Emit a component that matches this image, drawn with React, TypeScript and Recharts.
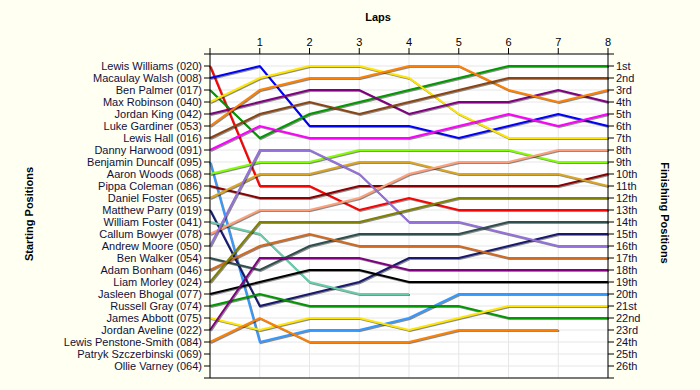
import React from 'react';
import { LineChart, Line, XAxis, YAxis, CartesianGrid, ReferenceLine } from 'recharts';

const laps: number[] = [0, 1, 2, 3, 4, 5, 6, 7, 8];
const lapTicks: number[] = [0, 1, 2, 3, 4, 5, 6, 7, 8];
const positionTicks: number[] = Array.from({ length: 28 }, (_, i) => i);

const drivers: string[] = [
  'Lewis Williams (020)',
  'Macaulay Walsh (008)',
  'Ben Palmer (017)',
  'Max Robinson (040)',
  'Jordan King (042)',
  'Luke Gardiner (053)',
  'Lewis Hall (016)',
  'Danny Harwood (091)',
  'Benjamin Duncalf (095)',
  'Aaron Woods (068)',
  'Pippa Coleman (086)',
  'Daniel Foster (065)',
  'Matthew Parry (019)',
  'William Foster (041)',
  'Callum Bowyer (078)',
  'Andrew Moore (050)',
  'Ben Walker (054)',
  'Adam Bonham (046)',
  'Liam Morley (024)',
  'Jasleen Bhogal (077)',
  'Russell Gray (074)',
  'James Abbott (075)',
  'Jordan Aveline (022)',
  'Lewis Penstone-Smith (084)',
  'Patryk Szczerbinski (069)',
  'Ollie Varney (064)',
];

const finishingLabels: string[] = [
  '1st', '2nd', '3rd', '4th', '5th', '6th', '7th', '8th', '9th', '10th',
  '11th', '12th', '13th', '14th', '15th', '16th', '17th', '18th', '19th', '20th',
  '21st', '22nd', '23rd', '24th', '25th', '26th',
];

// position of each driver at laps 0..8 (null = not running)
const positions: (number | null)[][] = [
  [1, 11, 11, 13, 12, 13, 13, 13, 13],
  [2, 1, 6, 6, 6, 7, 6, 5, 6],
  [3, 7, 5, 4, 3, 2, 1, 1, 1],
  [4, 2, 1, 1, 2, 5, 7, 7, 7],
  [5, 4, 3, 3, 5, 4, 4, 3, 4],
  [6, 3, 2, 2, 1, 1, 3, 4, 3],
  [7, 5, 4, 5, 4, 3, 2, 2, 2],
  [8, 6, 7, 7, 7, 6, 5, 6, 5],
  [9, 24, 23, 23, 22, 20, 20, 20, 20],
  [10, 9, 9, 8, 8, 8, 8, 9, 9],
  [11, 12, 12, 11, 11, 11, 11, 11, 10],
  [12, 10, 10, 9, 9, 10, 10, 10, 11],
  [13, 21, 20, 19, 17, 17, 16, 15, 15],
  [14, 15, 19, 20, 20, null, null, null, null],
  [15, 13, 13, 12, 10, 9, 9, 8, 8],
  [16, 8, 8, 10, 14, 14, 15, 16, 16],
  [17, 18, 16, 15, 15, 15, 14, 14, 14],
  [18, 16, 15, 16, 16, 16, 17, 17, 17],
  [19, 14, 14, 14, 13, 12, 12, 12, 12],
  [20, 19, 18, 18, 19, 19, 19, 19, 19],
  [21, 20, 21, 21, 21, 21, 22, 22, 22],
  [22, 23, 22, 22, 23, 22, 21, 21, 21],
  [23, 17, 17, 17, 18, 18, 18, 18, 18],
  [24, 22, 24, 24, 24, 23, 23, 23, null],
  [null, null, null, null, null, null, null, null, null],
  [null, null, null, null, null, null, null, null, null],
];

const colors: string[] = [
  '#ff0000', '#0000ff', '#009900', '#ffe600', '#800080', '#ff8000', '#8b4513', '#ff00ff',
  '#3399ff', '#80ff00', '#8b0000', '#daa520', '#191970', '#66cdaa', '#ffa07a', '#9370db',
  '#2f4f4f', '#d2691e', '#808000', '#000000', '#009900', '#ffe600', '#800080', '#ff8000',
  '#888888', '#888888',
];

const data = laps.map((lap, li) => {
  const row: Record<string, number | null> = { lap };
  positions.forEach((p, di) => {
    row['d' + di] = p[li];
  });
  return row;
});

const FONT = '"Liberation Sans", Arial, sans-serif';
const TEXT = '#10103a';

export default function App() {
  return (
    <div style={{ position: 'absolute', left: 0, top: 0, width: 700, height: 390, background: '#fffff2', fontFamily: FONT }}>
      <LineChart
        width={700}
        height={390}
        data={data}
        margin={{ top: 24, right: 0, bottom: 12, left: 0 }}
      >
        <CartesianGrid stroke="#e6e6e6" fill="#ffffff" />
        <XAxis
          dataKey="lap"
          type="number"
          orientation="top"
          domain={[0, 8]}
          ticks={lapTicks}
          interval={0}
          height={30}
          tickFormatter={(v: number) => (v === 0 ? '' : String(v))}
          tick={{ fontSize: 11, fill: '#000', fontFamily: FONT }}
          stroke="#000"
          tickSize={6}
          tickMargin={2}
        />
        <YAxis
          type="number"
          reversed
          domain={[0, 27]}
          ticks={positionTicks}
          interval={0}
          width={210}
          tickFormatter={(v: number) => (v >= 1 && v <= 26 ? drivers[v - 1] : '')}
          tick={{ fontSize: 11, fill: TEXT, fontFamily: FONT }}
          stroke="#000"
          tickSize={6}
          tickMargin={2}
        />
        <YAxis
          yAxisId="right"
          orientation="right"
          type="number"
          reversed
          domain={[0, 27]}
          ticks={positionTicks}
          interval={0}
          width={92}
          tickFormatter={(v: number) => (v >= 1 && v <= 26 ? finishingLabels[v - 1] : '')}
          tick={{ fontSize: 11, fill: TEXT, fontFamily: FONT }}
          stroke="#000"
          tickSize={6}
          tickMargin={2}
        />
        <ReferenceLine y={27} stroke="#000" strokeWidth={1} />
        {positions.map((_, di) => (
          <Line
            key={di}
            dataKey={'d' + di}
            stroke={colors[di]}
            strokeWidth={2}
            dot={false}
            activeDot={false}
            isAnimationActive={false}
            connectNulls={false}
            style={{ filter: 'drop-shadow(1px 1px 0.6px rgba(0,0,0,0.45))' }}
          />
        ))}
        <Line
          yAxisId="right"
          dataKey="d0"
          stroke="none"
          strokeWidth={0}
          dot={false}
          activeDot={false}
          isAnimationActive={false}
        />
      </LineChart>
      <div style={{ position: 'absolute', left: 0, width: 756, top: 11, textAlign: 'center', fontSize: 11, fontWeight: 'bold', color: '#000' }}>
        Laps
      </div>
      <div
        style={{
          position: 'absolute', left: 29, top: 214, fontSize: 11, fontWeight: 'bold', color: '#000',
          whiteSpace: 'nowrap', transform: 'translate(-50%, -50%) rotate(-90deg)',
        }}
      >
        Starting Positions
      </div>
      <div
        style={{
          position: 'absolute', left: 665, top: 213, fontSize: 11, fontWeight: 'bold', color: '#000',
          whiteSpace: 'nowrap', transform: 'translate(-50%, -50%) rotate(90deg)',
        }}
      >
        Finishing Positions
      </div>
    </div>
  );
}
